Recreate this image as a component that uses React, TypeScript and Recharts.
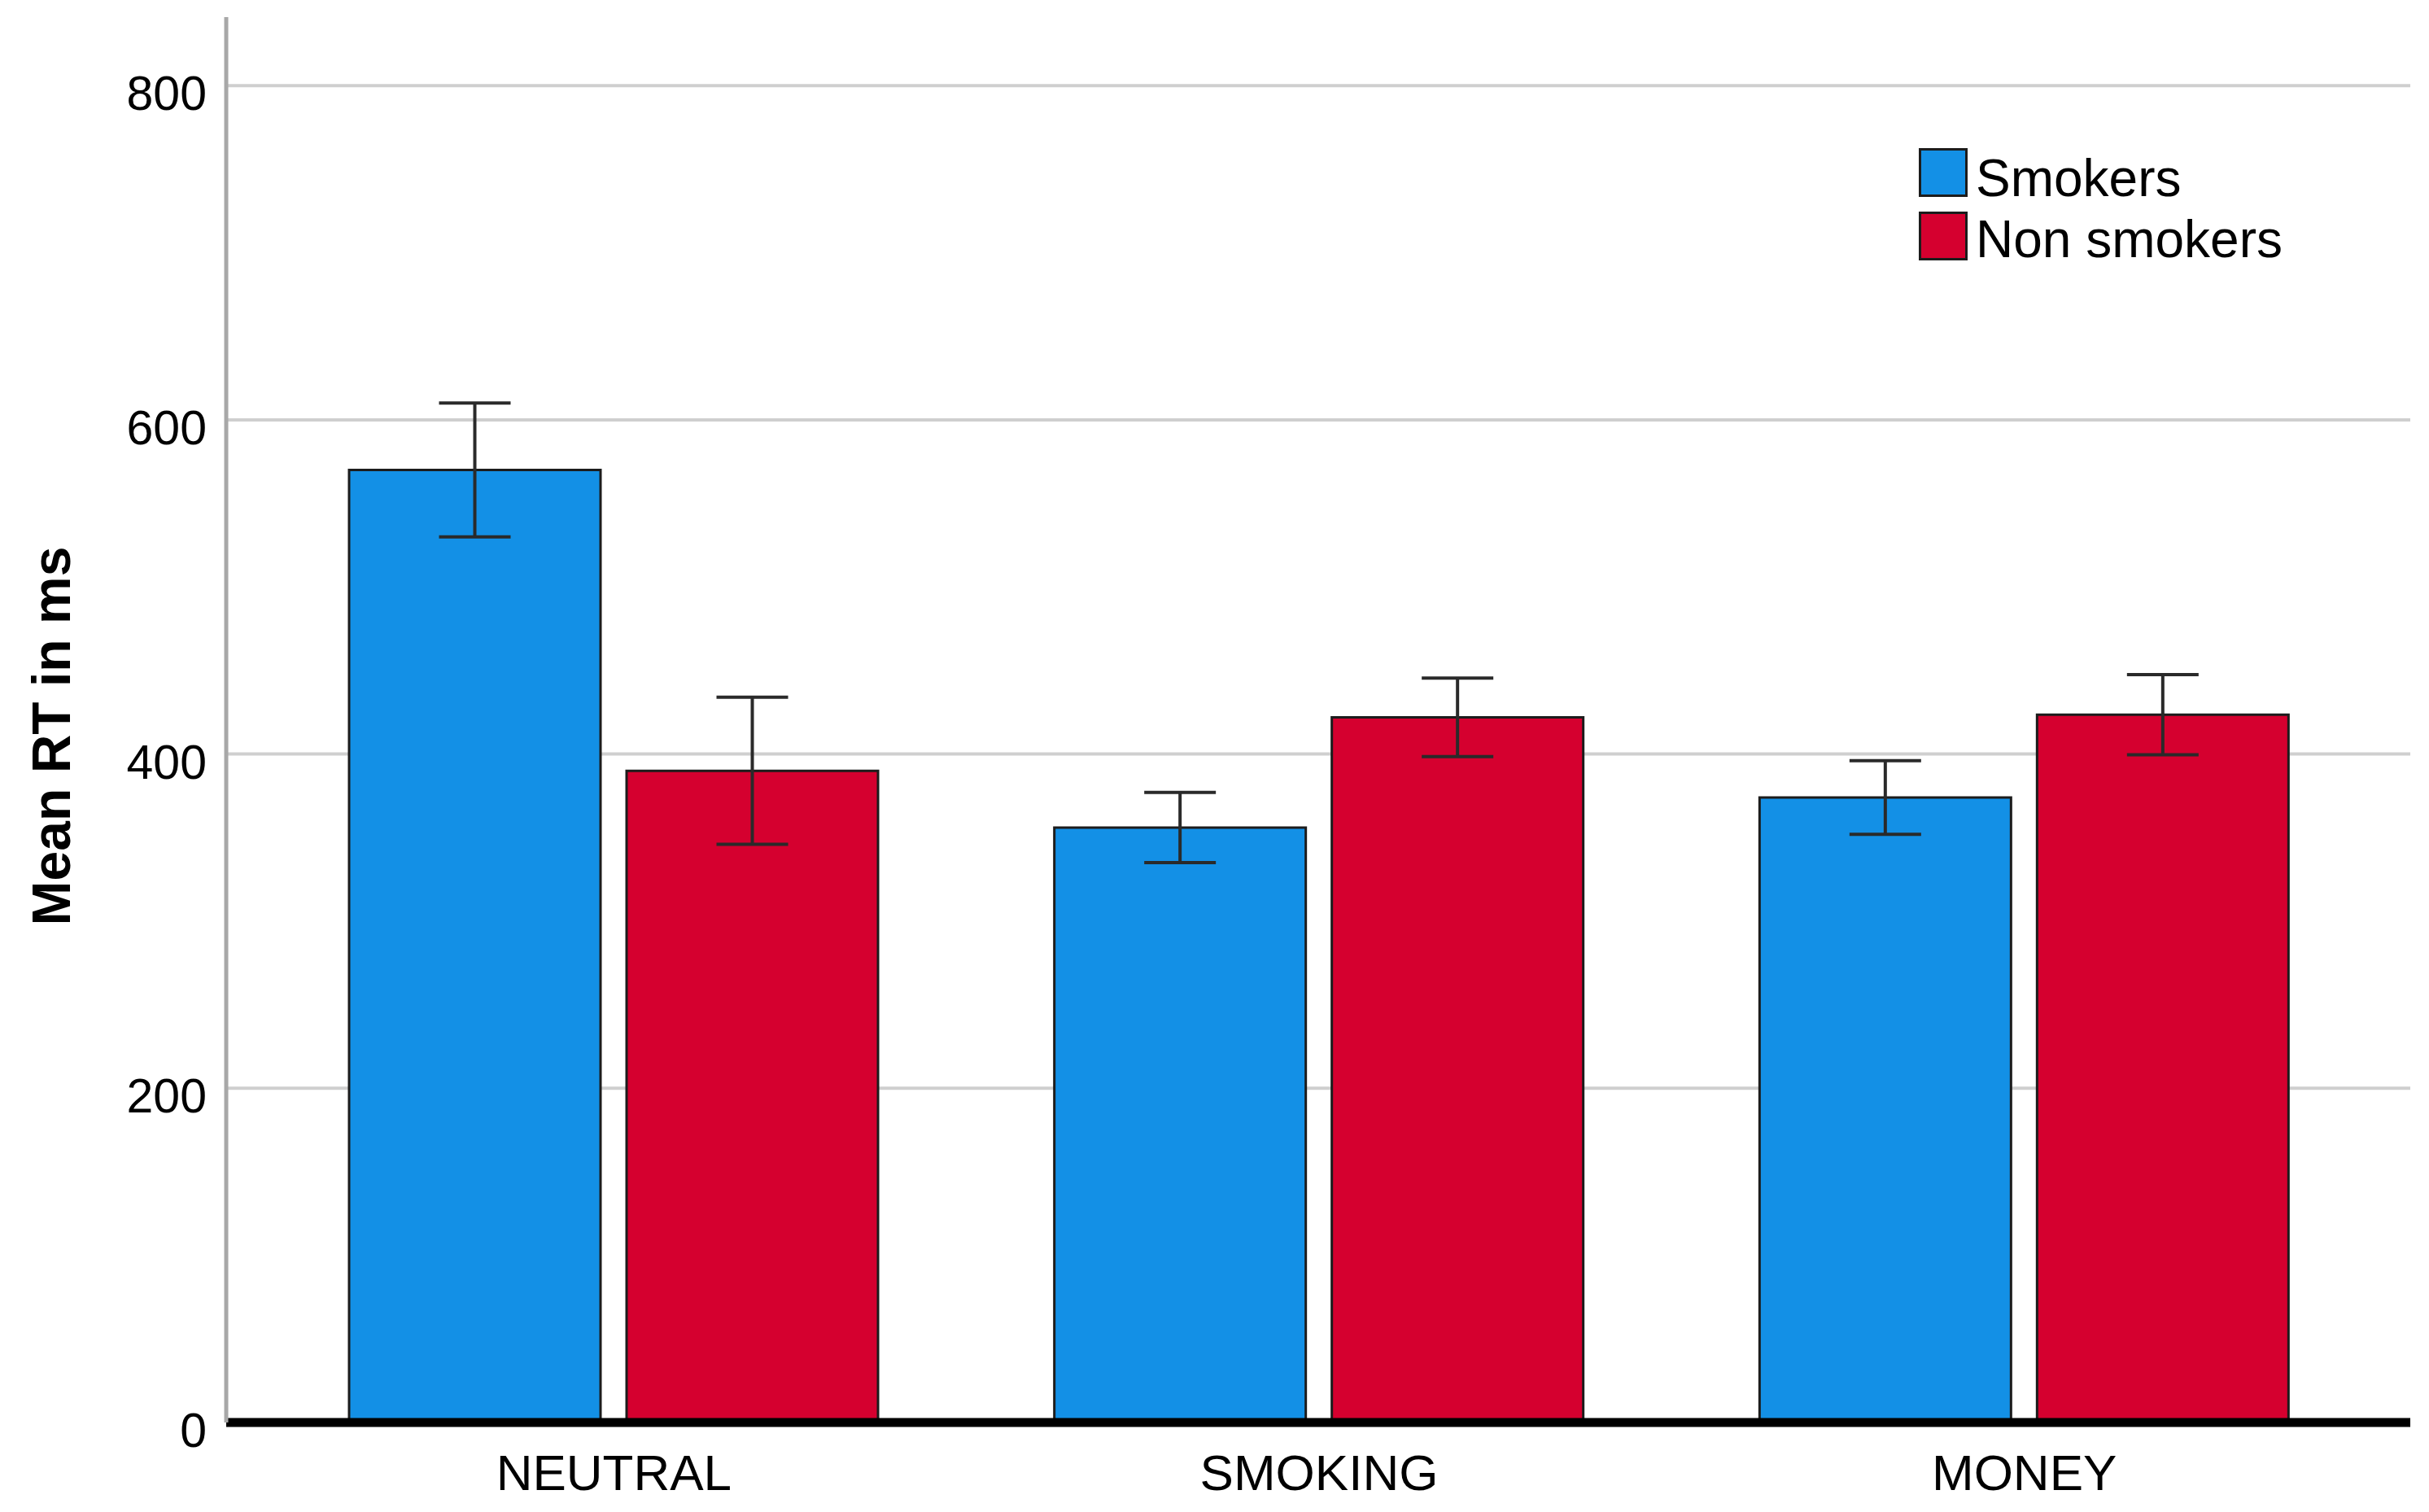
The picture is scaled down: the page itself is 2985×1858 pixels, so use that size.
import React from 'react';
import { BarChart, Bar, XAxis, YAxis, CartesianGrid, ErrorBar, Legend } from 'recharts';

const categories = ['NEUTRAL', 'SMOKING', 'MONEY'];
const smokers = [570, 356, 374];
const nonSmokers = [390, 422, 423.5];
const smokersErr = [40, 21, 22];
const nonSmokersErr = [44, 23.5, 24];
const yTicks = [0, 200, 400, 600, 800];
const seriesNames = ['Smokers', 'Non smokers'];
const seriesColors = ['#1390E6', '#D5002F'];

const data = categories.map((c, i) => ({
  category: c,
  smokers: smokers[i],
  nonSmokers: nonSmokers[i],
  smokersErr: smokersErr[i],
  nonSmokersErr: nonSmokersErr[i],
}));

const FONT = '"Liberation Sans", Arial, Helvetica, sans-serif';

const YTick = (props: any) => {
  const { x, y, payload } = props;
  return (
    <text x={x} y={y} dy={30} textAnchor="end" fontSize={59} fontFamily={FONT} fill="#000">
      {payload.value}
    </text>
  );
};

const XTick = (props: any) => {
  const { x, y, payload } = props;
  return (
    <text x={x} y={y} dy={83} textAnchor="middle" fontSize={62} fontFamily={FONT} fill="#000">
      {payload.value}
    </text>
  );
};

const YLabel = (props: any) => {
  const vb = props.viewBox || { x: 0, y: 0, width: 0, height: 0 };
  const cx = vb.x + 63;
  const cy = vb.y + vb.height / 2 + 20;
  return (
    <text
      x={cx}
      y={cy}
      transform={`rotate(-90, ${cx}, ${cy})`}
      textAnchor="middle"
      dominantBaseline="central"
      fontSize={66}
      fontWeight="bold"
      fontFamily={FONT}
      fill="#000"
    >
      Mean RT in ms
    </text>
  );
};

const LegendContent = () => (
  <svg width={560} height={140} style={{ display: 'block', overflow: 'visible' }}>
    {seriesNames.map((name, i) => (
      <g key={name}>
        <rect
          x={1.5}
          y={1.5 + i * 78}
          width={57}
          height={57}
          fill={seriesColors[i]}
          stroke="#1c1c1c"
          strokeWidth={3}
        />
        <text x={70} y={59 + i * 75} fontSize={64} fontFamily={FONT} fill="#000">
          {name}
        </text>
      </g>
    ))}
  </svg>
);

export default function App() {
  return (
    <div style={{ position: 'absolute', left: 0, top: 0, width: 2985, height: 1858, background: '#fff' }}>
      <BarChart
        width={2985}
        height={1858}
        data={data}
        margin={{ top: 21, right: 23, bottom: 0, left: 0 }}
        barCategoryGap={108}
        barGap={32}
      >
        <CartesianGrid vertical={false} syncWithTicks stroke="#cfcfcf" strokeWidth={4} />
        <XAxis
          dataKey="category"
          height={110}
          padding={{ left: 43, right: 41 }}
          axisLine={{ stroke: '#000', strokeWidth: 11 }}
          tickLine={false}
          tickSize={0}
          tickMargin={0}
          tick={<XTick />}
          interval={0}
        />
        <YAxis
          width={278}
          domain={[0, 841]}
          ticks={yTicks}
          allowDataOverflow
          axisLine={{ stroke: '#a8a8a8', strokeWidth: 5 }}
          tickLine={false}
          tickSize={0}
          tickMargin={24}
          tick={<YTick />}
          label={YLabel}
        />
        <Legend
          layout="vertical"
          align="center"
          verticalAlign="middle"
          content={LegendContent}
          wrapperStyle={{ position: 'absolute', left: 2358, top: 182, width: 560, height: 140 }}
        />
        <Bar dataKey="smokers" name={seriesNames[0]} fill={seriesColors[0]} stroke="#1c1c1c" strokeWidth={3} isAnimationActive={false}>
          <ErrorBar dataKey="smokersErr" width={44} stroke="#2a2a2a" strokeWidth={4} direction="y" />
        </Bar>
        <Bar dataKey="nonSmokers" name={seriesNames[1]} fill={seriesColors[1]} stroke="#1c1c1c" strokeWidth={3} isAnimationActive={false}>
          <ErrorBar dataKey="nonSmokersErr" width={44} stroke="#2a2a2a" strokeWidth={4} direction="y" />
        </Bar>
      </BarChart>
    </div>
  );
}
